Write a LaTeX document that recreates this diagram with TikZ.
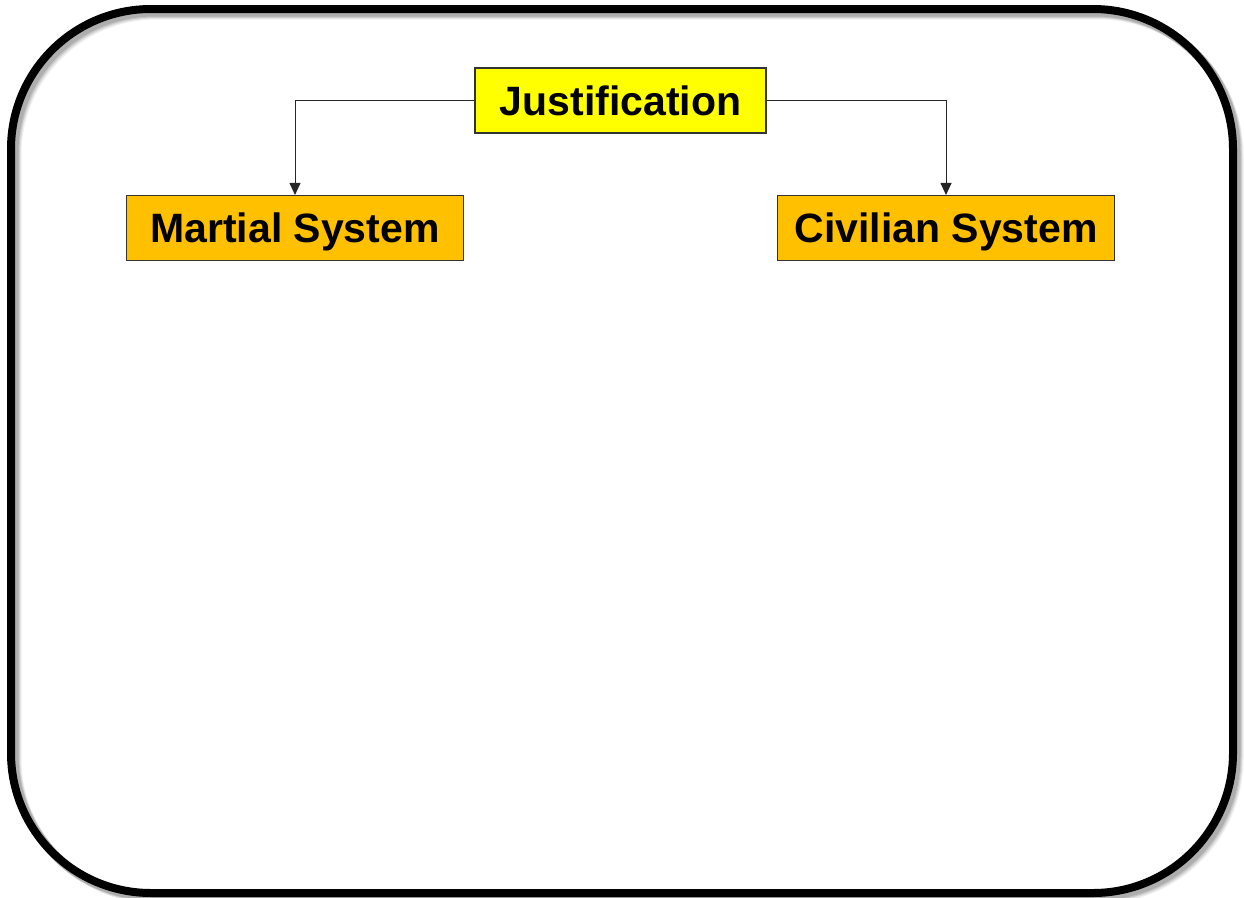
\documentclass[tikz,border=0pt]{standalone}
\usepackage{fontspec}
\setmainfont{Liberation Sans}
\usetikzlibrary{arrows.meta}
\definecolor{boxyellow}{HTML}{FFFF00}
\definecolor{boxorange}{HTML}{FFC000}
\definecolor{boxline}{HTML}{333333}
\tikzset{
  frame/.style={line width=8pt, rounded corners=140pt},
  labelfont/.style={font=\fontsize{41}{41}\selectfont\bfseries, text height=29.4pt, text depth=0pt},
  topbox/.style={draw=boxline, line width=1.1pt, fill=boxyellow, minimum width=291pt, minimum height=65pt, inner sep=0pt, labelfont},
  subbox/.style={draw=boxline, line width=1.1pt, fill=boxorange, minimum width=337pt, minimum height=65pt, inner sep=0pt, labelfont},
  link/.style={draw=black!85, line width=1pt, -{Triangle[length=12pt,width=11pt]}}
}
\begin{document}
\begin{tikzpicture}[x=1pt,y=-1pt]
  \useasboundingbox (0,0) rectangle (1244,897);
  % soft shadow of the outer frame
  \foreach \o/\op in {6/0.06,5/0.08,4/0.10,3/0.12}{
    \draw[frame, draw=black, opacity=\op, line width=9pt] (11+\o,9+\o) rectangle (1233+\o,893+\o);
  }
  \draw[frame, draw=black] (11,9) rectangle (1233,893);
  % boxes
  \node[topbox] (just) at (620.5,100.5) {Justification};
  \node[subbox] (mart) at (295,228) {Martial System};
  \node[subbox] (civ) at (946,228) {Civilian System};
  % connectors
  \draw[link] (just.west) -| (mart.north);
  \draw[link] (just.east) -| (civ.north);
\end{tikzpicture}
\end{document}
